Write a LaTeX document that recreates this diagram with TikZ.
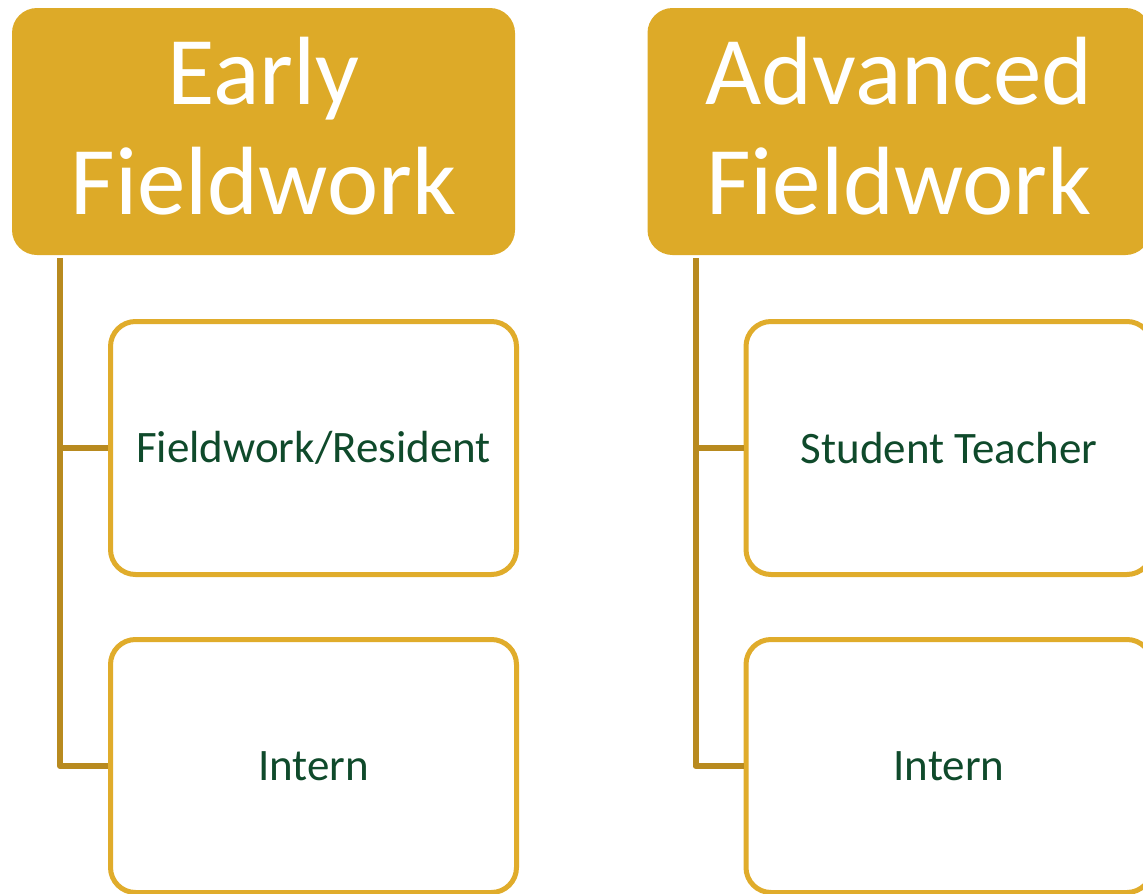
\documentclass[tikz,border=0pt]{standalone}
\usepackage{fontspec}
\setmainfont{Carlito}
\usetikzlibrary{positioning}
\definecolor{gold}{HTML}{DDAA28}
\definecolor{goldline}{HTML}{E0AC2B}
\definecolor{trunkcol}{HTML}{B88A1F}
\definecolor{darkgreen}{HTML}{0F4A2B}

\begin{document}
\begin{tikzpicture}[x=1pt, y=-1pt,
  header/.style={fill=gold, rounded corners=25pt, minimum width=503pt, minimum height=247pt,
    inner sep=0pt, outer sep=0pt, text=white, align=center, text depth=12pt,
    font=\fontsize{97}{110}\selectfont},
  child/.style={draw=goldline, line width=5pt, fill=white, rounded corners=25pt, minimum width=406pt,
    minimum height=253pt, inner sep=0pt, outer sep=0pt, text=darkgreen, font=\fontsize{45}{54}\selectfont},
  trunk/.style={draw=trunkcol, line width=6pt, line join=round, shorten >=2.5pt}]
\useasboundingbox (0,0) rectangle (1143,894);
% early column
\node[header] (early) at (263.5,131.5) {Early\\Fieldwork};
\node[child] (resident) at (313.5,448) {Fieldwork/Resident};
\node[child] (internA) at (313.5,766) {Intern};
\coordinate (earlyTrunk) at (60,258);
\draw[trunk] (earlyTrunk) |- (resident.west);
\draw[trunk] (earlyTrunk) |- (internA.west);
% advanced column
\node[header] (advanced) at (899,131.5) {Advanced\\Fieldwork};
\node[child] (teacher) at (949,448) {Student Teacher};
\node[child] (internB) at (949,766) {Intern};
\coordinate (advancedTrunk) at (695.5,258);
\draw[trunk] (advancedTrunk) |- (teacher.west);
\draw[trunk] (advancedTrunk) |- (internB.west);
\end{tikzpicture}
\end{document}
